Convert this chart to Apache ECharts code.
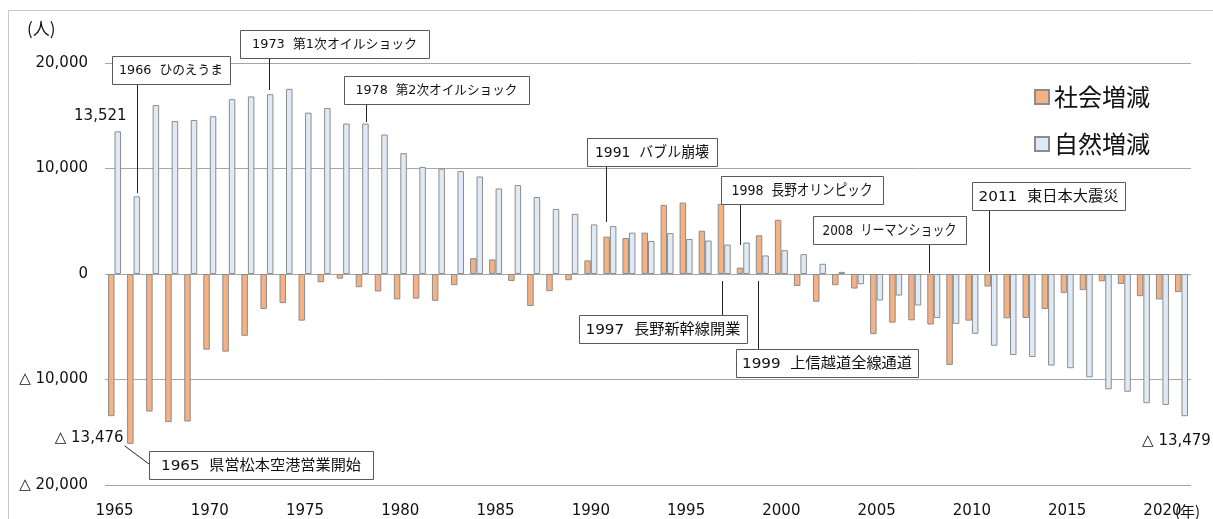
<!DOCTYPE html>
<html>
<head>
<meta charset="utf-8">
<script src="https://cdn.jsdelivr.net/npm/echarts@6/dist/echarts.min.js"></script>
<style>
  html, body { margin: 0; padding: 0; background: #fff; }
  #chart { width: 1213px; height: 519px; }
</style>
</head>
<body>
<div id="chart"></div>
<script>
// 年次（1965〜2021）
const years = [
  '1965', '1966', '1967', '1968', '1969', '1970', '1971', '1972', '1973', '1974',
  '1975', '1976', '1977', '1978', '1979', '1980', '1981', '1982', '1983', '1984',
  '1985', '1986', '1987', '1988', '1989', '1990', '1991', '1992', '1993', '1994',
  '1995', '1996', '1997', '1998', '1999', '2000', '2001', '2002', '2003', '2004',
  '2005', '2006', '2007', '2008', '2009', '2010', '2011', '2012', '2013', '2014',
  '2015', '2016', '2017', '2018', '2019', '2020', '2021',
];

// 社会増減（人）
const socialChange = [
  -13476, -16100, -13040, -14040, -13980, -7170, -7360, -5860, -3320, -2760,
  -4420, -780, -440, -1250, -1660, -2410, -2340, -2540, -1060, 1500,
  1380, -660, -3040, -1630, -590, 1290, 3540, 3410, 3920, 6550,
  6770, 4100, 6640, 600, 3670, 5140, -1130, -2630, -1060, -1380,
  -5700, -4610, -4390, -4790, -8620, -4420, -1190, -4200, -4170, -3320,
  -1790, -1530, -690, -940, -2100, -2410, -1720,
];

// 自然増減（人）
const naturalChange = [
  13521, 7360, 16010, 14500, 14600, 14950, 16570, 16830, 17040, 17550,
  15290, 15730, 14260, 14260, 13220, 11450, 10150, 9990, 9750, 9240,
  8110, 8430, 7300, 6170, 5700, 4700, 4540, 3920, 3130, 3880,
  3320, 3170, 2790, 2980, 1760, 2260, 1880, 970, 200, -970,
  -2510, -2040, -2980, -4170, -4730, -5670, -6800, -7680, -7870, -8680,
  -8930, -9800, -10930, -11160, -12250, -12410, -13479,
];

// 出来事（引き出し線を付ける年）
const events = [
  { year: '1966', text: '1966 ひのえうま' },
  { year: '1973', text: '1973 第1次オイルショック' },
  { year: '1978', text: '1978 第2次オイルショック' },
  { year: '1991', text: '1991 バブル崩壊' },
  { year: '1998', text: '1998 長野オリンピック' },
  { year: '2008', text: '2008 リーマンショック' },
  { year: '2011', text: '2011 東日本大震災' },
  { year: '1997', text: '1997 長野新幹線開業' },
  { year: '1999', text: '1999 上信越道全線通道' },
  { year: '1966', text: '1965 県営松本空港営業開始' },
];

// 吹き出しの配置（px）: 箱、本文の幅、引き出し線
const eventLayout = [
  { x: 112, y: 56, w: 118, h: 28, tw: 104, dx: 3, y1: 84, y2: 193, small: true },
  { x: 240, y: 30, w: 189, h: 28, tw: 165, dx: 2, y1: 58, y2: 90, small: true },
  { x: 344, y: 76, w: 185, h: 28, tw: 162, dx: 3.5, y1: 104, y2: 122, small: true },
  { x: 587, y: 138, w: 130, h: 28, tw: 114, dx: -3.5, y1: 166, y2: 222 },
  { x: 721, y: 176, w: 162, h: 28, tw: 141, dx: -3.5, y1: 204, y2: 245 },
  { x: 813, y: 216, w: 153, h: 28, tw: 134, dx: -5, y1: 244, y2: 273 },
  { x: 972, y: 182, w: 153, h: 28, tw: 140, dx: -2, y1: 210, y2: 272 },
  { x: 579, y: 315, w: 168, h: 28, tw: 155, dx: -2, y1: 315, y2: 281 },
  { x: 736, y: 349, w: 182, h: 28, tw: 170, dx: -4, y1: 349, y2: 281 },
  { x: 149, y: 451, w: 224, h: 28, tw: 200, diag: true },
];

const LATIN = '"DejaVu Sans", "Noto Sans CJK JP", sans-serif';
const CJK = '"Noto Sans CJK JP", "DejaVu Sans", sans-serif';

function withComma(v) {
  return String(Math.abs(v)).replace(/\B(?=(\d{3})+(?!\d))/g, ',');
}
function fmt(v) {
  return v < 0 ? '△ ' + withComma(v) : withComma(v);
}

const measureCtx = document.createElement('canvas').getContext('2d');
function textWidth(str, size) {
  measureCtx.font = size + 'px ' + LATIN;
  return measureCtx.measureText(str).width;
}

const chart = echarts.init(document.getElementById('chart'));

const option = {
  animation: false,
  backgroundColor: '#fff',
  grid: { left: 105, right: 22, top: 63, bottom: 30 },
  legend: {
    orient: 'vertical',
    left: 1029,
    top: 80,
    icon: 'rect',
    itemWidth: 14,
    itemHeight: 14,
    itemGap: 23,
    selectedMode: false,
    textStyle: { fontSize: 24, fontFamily: CJK, color: '#111' },
    data: ['社会増減', '自然増減'],
  },
  xAxis: {
    type: 'category',
    data: years,
    axisLine: { show: false },
    axisTick: { show: false },
    axisLabel: {
      interval: 4,
      margin: 19,
      fontSize: 15,
      fontFamily: LATIN,
      color: '#111',
    },
  },
  yAxis: {
    type: 'value',
    min: -20000,
    max: 20000,
    interval: 10000,
    axisLine: { show: false },
    axisTick: { show: false },
    axisLabel: {
      margin: 17,
      fontSize: 15,
      fontFamily: LATIN,
      color: '#111',
      formatter: fmt,
    },
    splitLine: { lineStyle: { color: '#a6a6a6', width: 1 } },
  },
  series: [
    {
      name: '社会増減',
      type: 'bar',
      data: socialChange,
      barWidth: 6.5,
      barGap: '0%',
      itemStyle: { color: '#F4B183', borderColor: '#8c8c8c', borderWidth: 1 },
    },
    {
      name: '自然増減',
      type: 'bar',
      data: naturalChange,
      barWidth: 6.5,
      itemStyle: { color: '#DEEBF7', borderColor: '#8c8c8c', borderWidth: 1 },
    },
  ],
};

chart.setOption(option);

const graphics = [];

// 外枠
graphics.push({
  type: 'rect',
  shape: { x: 8.5, y: 10.5, width: 1300, height: 600 },
  style: { fill: 'none', stroke: '#c8c8c8', lineWidth: 1 },
  silent: true,
  z: 0,
});

// 単位
graphics.push({
  type: 'text',
  style: { text: '(人)', x: 27, y: 29, verticalAlign: 'middle', fontSize: 17, fontFamily: CJK, fill: '#111' },
});
graphics.push({
  type: 'text',
  style: { text: '(年)', x: 1175, y: 511, verticalAlign: 'middle', fontSize: 15, fontFamily: CJK, fill: '#111' },
  z: 10,
});

// 吹き出し
events.forEach((ev, i) => {
  const lay = eventLayout[i];
  const cx = chart.convertToPixel({ xAxisIndex: 0 }, ev.year);
  if (lay.diag) {
    const idx = years.indexOf(ev.year);
    const by = chart.convertToPixel({ yAxisIndex: 0 }, socialChange[idx]);
    graphics.push({
      type: 'line',
      shape: { x1: cx - 9, y1: by + 2, x2: lay.x, y2: lay.y + 13 },
      style: { stroke: '#222', lineWidth: 1 },
      z: 20,
    });
  } else {
    const lx = Math.round(cx + lay.dx) + 0.5;
    graphics.push({
      type: 'line',
      shape: { x1: lx, y1: lay.y1, x2: lx, y2: lay.y2 },
      style: { stroke: '#222', lineWidth: 1 },
      z: 20,
    });
  }
  graphics.push({
    type: 'rect',
    shape: { x: lay.x + 0.5, y: lay.y + 0.5, width: lay.w, height: lay.h },
    style: { fill: '#fff', stroke: '#595959', lineWidth: 1 },
    z: 30,
  });
  const size = lay.small ? 13 : 14.5;
  const label = ev.text.replace(' ', '  ');
  const sx = lay.tw / textWidth(label, size);
  graphics.push({
    type: 'text',
    x: lay.x + lay.w / 2,
    y: lay.y + lay.h / 2 + 1,
    scaleX: sx,
    style: {
      text: label,
      x: 0,
      y: 0,
      align: 'center',
      verticalAlign: 'middle',
      fontSize: size,
      fontFamily: LATIN,
      fill: '#111',
    },
    z: 31,
  });
});

// 値ラベル
const firstNat = chart.convertToPixel({ seriesIndex: 1 }, [0, naturalChange[0]]);
graphics.push({
  type: 'text',
  style: {
    text: fmt(naturalChange[0]), x: firstNat[0] + 12, y: firstNat[1] - 15,
    align: 'right', verticalAlign: 'middle', fontSize: 15, fontFamily: LATIN, fill: '#111',
  },
});
const firstSoc = chart.convertToPixel({ seriesIndex: 0 }, [0, socialChange[0]]);
graphics.push({
  type: 'text',
  style: {
    text: fmt(socialChange[0]), x: firstSoc[0] + 9, y: firstSoc[1] + 22,
    align: 'right', verticalAlign: 'middle', fontSize: 15, fontFamily: LATIN, fill: '#111',
  },
});
const last = naturalChange.length - 1;
const lastNat = chart.convertToPixel({ seriesIndex: 1 }, [last, naturalChange[last]]);
graphics.push({
  type: 'text',
  style: {
    text: fmt(naturalChange[last]), x: lastNat[0] - 5, y: lastNat[1] + 25,
    align: 'center', verticalAlign: 'middle', fontSize: 15, fontFamily: LATIN, fill: '#111',
  },
});

chart.setOption({ graphic: graphics });
</script>
</body>
</html>
